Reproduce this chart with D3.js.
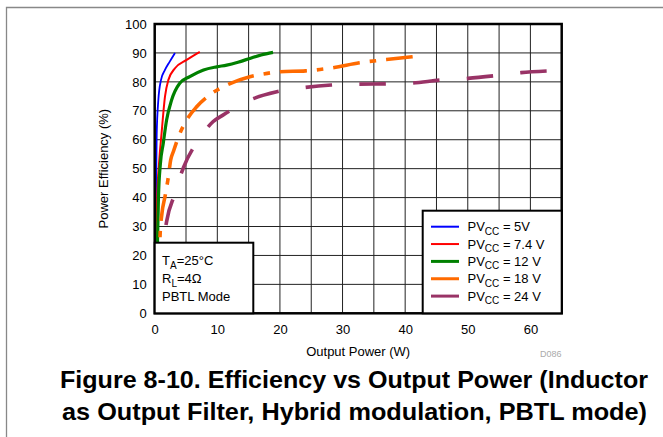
<!DOCTYPE html>
<html><head><meta charset="utf-8">
<script src="https://cdn.jsdelivr.net/npm/d3@7"></script>
<style>body{margin:0;background:#fff}svg{display:block}text{font-family:"Liberation Sans",Arial,sans-serif}</style>
</head><body>
<script>
const xTicks=[0,10,20,30,40,50,60];
const yTicks=[0,10,20,30,40,50,60,70,80,90,100];
const legendLabels=[["PV","CC"," = 5V"],["PV","CC"," = 7.4 V"],["PV","CC"," = 12 V"],["PV","CC"," = 18 V"],["PV","CC"," = 24 V"]];
const p5x=[0.15,0.2,0.32,0.58,1.0,1.64,2.4,3.24];
const p5y=[22,40,62,73.7,80.6,84.1,87,90];
const p74x=[0.25,0.4,0.7,1.1,1.64,2.17,3.24,5.1,7.2];
const p74y=[22,40,52,62.3,74.9,80.6,84.7,87.6,90.4];
const p12x=[0.42,0.6,0.9,1.37,1.9,2.7,4.0,5.6,7.8,9.9,11.5,13.3,15.2,17,18.9];
const p12y=[22,40,51.5,58.8,66.8,73.7,79.5,81.8,84.1,85.2,85.8,86.8,88.1,89.3,90.2];
const p18x=[0.8,0.85,1.16,1.64,2.17,2.55,3.0,3.8,5.1,6.7,8.8,11.5,15.2,17.3,20,24.1,28.5,32.7,37,41.2];
const p18y=[20,26.5,34.6,40.3,47,53,56,61,66.8,71.4,75.5,78.9,81.8,82.7,83.5,83.8,84.9,86.6,87.7,88.7];
const p24x=[1.3,1.48,1.9,3.24,3.8,4.6,7.2,9.3,10.9,15.5,19.5,24.1,28.2,32.7,36.9,41.2,45.5,50,54.2,58.5,62.8];
const p24y=[20,25.3,31.7,41.4,45.5,50.4,60.5,66.2,68.5,74,76.6,78.1,78.9,79.2,79.3,79.6,80.6,81.2,82.1,83.2,83.8];
const colors=["#0000ff","#ff0000","#008000","#ff6a00","#993366"];
const captionLines=["Figure 8-10. Efficiency vs Output Power (Inductor","as Output Filter, Hybrid modulation, PBTL mode)"];

const W=663,H=437;
const L=154.7,T=24,R=561.7,B=313.3;
const svg=d3.select("body").append("svg").attr("width",W).attr("height",H);
const x=d3.scaleLinear().domain([0,65]).range([L,R]);
const y=d3.scaleLinear().domain([0,100]).range([B,T]);

// outer frame
svg.append("path").attr("d",`M6.5,${H} V7.5 H${W}`).attr("fill","none").attr("stroke","#888").attr("stroke-width",1.3);

// grid
const g=svg.append("g");
g.selectAll(".vx").data(d3.range(5,65,5)).join("line").attr("x1",d=>x(d)).attr("x2",d=>x(d)).attr("y1",T).attr("y2",B).attr("stroke","#222").attr("stroke-width",1);
g.selectAll(".hy").data(d3.range(10,100,10)).join("line").attr("y1",d=>y(d)).attr("y2",d=>y(d)).attr("x1",L).attr("x2",R).attr("stroke","#222").attr("stroke-width",1);

// axes (labels only)
const xa=svg.append("g").attr("transform",`translate(0,${B})`).call(d3.axisBottom(x).tickValues(xTicks).tickSize(0).tickPadding(11));
xa.select(".domain").remove();
xa.selectAll("text").attr("font-size",13).attr("fill","#000").attr("font-family","Liberation Sans, Arial, sans-serif");
const ya=svg.append("g").attr("transform",`translate(${L},0)`).call(d3.axisLeft(y).tickValues(yTicks).tickSize(0).tickPadding(8));
ya.select(".domain").remove();
ya.selectAll("text").attr("font-size",13).attr("fill","#000").attr("font-family","Liberation Sans, Arial, sans-serif");

svg.append("text").attr("x",(L+R)/2).attr("y",356).attr("text-anchor","middle").attr("font-size",13).text("Output Power (W)");
svg.append("text").attr("transform",`translate(108,${(T+B)/2}) rotate(-90)`).attr("text-anchor","middle").attr("font-size",13).text("Power Efficiency (%)");
svg.append("text").attr("x",540).attr("y",357).attr("font-size",9).attr("fill","#aaa").text("D086");

// curves
const series=[[p5x,p5y,1.8,null],[p74x,p74y,2,null],[p12x,p12y,3.2,null],[p18x,p18y,3.6,[27,10,6.5,10]],[p24x,p24y,3.6,[26.5,27.3]]];
const anchors=[null,null,null,28.5,24.1];
const line=d3.line().x(d=>x(d[0])).y(d=>y(d[1])).curve(d3.curveMonotoneX);
svg.append("clipPath").attr("id","pc").append("rect").attr("x",L).attr("y",T).attr("width",R-L).attr("height",B-T);
const cg=svg.append("g").attr("clip-path","url(#pc)");
series.forEach((s,i)=>{
  const pts=s[0].map((v,j)=>[v,s[1][j]]);
  const p=cg.append("path").attr("d",line(pts)).attr("fill","none").attr("stroke",colors[i]).attr("stroke-width",s[2]).attr("stroke-linejoin","round");
  if(s[3]){
    const P=d3.sum(s[3]);
    const node=p.node();const tot=node.getTotalLength();
    const tx=x(anchors[i]);let lo=0,hi=tot;
    for(let k=0;k<40;k++){const m=(lo+hi)/2;if(node.getPointAtLength(m).x<tx)lo=m;else hi=m;}
    const off=P-(lo%P);
    p.attr("stroke-dasharray",s[3].join(",")).attr("stroke-dashoffset",off);
  }
});

// plot border
svg.append("rect").attr("x",L).attr("y",T).attr("width",R-L).attr("height",B-T).attr("fill","none").attr("stroke","#000").attr("stroke-width",2.5);

// annotation box
svg.append("rect").attr("x",L).attr("y",242.7).attr("width",253.3-L).attr("height",B-242.7).attr("fill","#fff").attr("stroke","#000").attr("stroke-width",2);
const ann=svg.append("g").attr("font-size",13);
const t1=ann.append("text").attr("x",162).attr("y",265);
t1.append("tspan").text("T");t1.append("tspan").attr("font-size",10).attr("dy",4).text("A");t1.append("tspan").attr("dy",-4).text("=25°C");
const t2=ann.append("text").attr("x",162).attr("y",283);
t2.append("tspan").text("R");t2.append("tspan").attr("font-size",10).attr("dy",4).text("L");t2.append("tspan").attr("dy",-4).text("=4Ω");
ann.append("text").attr("x",162).attr("y",301).text("PBTL Mode");

// legend
svg.append("rect").attr("x",422.7).attr("y",210.7).attr("width",R-422.7).attr("height",B-210.7).attr("fill","#fff").attr("stroke","#000").attr("stroke-width",2);
legendLabels.forEach((lb,i)=>{
  const yy=226.7+i*17.35;
  svg.append("line").attr("x1",431).attr("x2",459).attr("y1",yy).attr("y2",yy).attr("stroke",colors[i]).attr("stroke-width",i<2?2:3);
  const t=svg.append("text").attr("x",467.5).attr("y",yy+4.5).attr("font-size",13);
  t.append("tspan").text(lb[0]);
  t.append("tspan").attr("font-size",10).attr("dy",3.5).text(lb[1]);
  t.append("tspan").attr("dy",-3.5).text(lb[2]);
});

// caption
const cap=svg.append("g").attr("font-size",24).attr("font-weight","bold");
cap.append("text").attr("x",60).attr("y",387.5).attr("textLength",588).attr("lengthAdjust","spacingAndGlyphs").text(captionLines[0]);
cap.append("text").attr("x",62).attr("y",420).attr("textLength",585).attr("lengthAdjust","spacingAndGlyphs").text(captionLines[1]);
</script>
</body></html>
